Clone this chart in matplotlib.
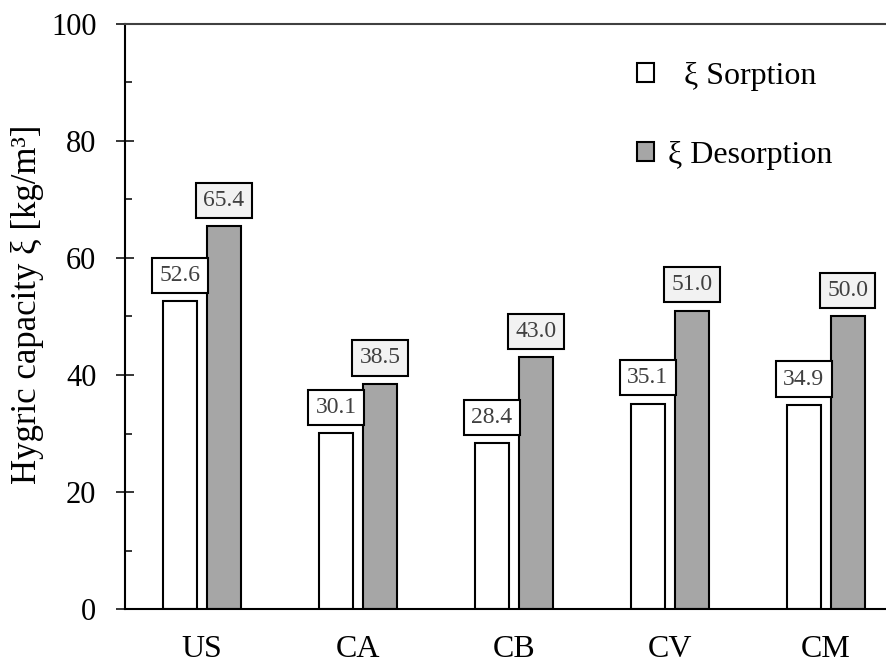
import matplotlib
matplotlib.use("Agg")
import matplotlib.pyplot as plt
from matplotlib.patches import Patch
from matplotlib.ticker import MultipleLocator
import numpy as np

# data
categories = ['US', 'CA', 'CB', 'CV', 'CM']
sorption = [52.6, 30.1, 28.4, 35.1, 34.9]
desorption = [65.4, 38.5, 43.0, 51.0, 50.0]

plt.rcParams['font.family'] = ['Liberation Serif', 'DejaVu Serif']

fig = plt.figure(figsize=(8.86, 6.64), dpi=100)
ax = fig.add_axes([0.141, 0.0828, 0.858, 0.8811])

x = np.arange(len(categories))
w = 0.218
off = 0.141

ax.bar(x - off, sorption, width=w, color='white', edgecolor='black', linewidth=1.5, zorder=2)
ax.bar(x + off, desorption, width=w, color='#a6a6a6', edgecolor='black', linewidth=1.5, zorder=2)

# value labels in boxes
for xi, v in zip(x - off, sorption):
    ax.annotate('%.1f' % v, xy=(xi, v), xytext=(0, 11), textcoords='offset points',
                ha='center', va='bottom', fontsize=17, color='#404040',
                bbox=dict(boxstyle='square,pad=0.3', fc='white', ec='black', lw=1.5))
for xi, v in zip(x + off, desorption):
    ax.annotate('%.1f' % v, xy=(xi, v), xytext=(0, 11), textcoords='offset points',
                ha='center', va='bottom', fontsize=17, color='#404040',
                bbox=dict(boxstyle='square,pad=0.3', fc='#f2f2f2', ec='black', lw=1.5))

ax.set_xlim(-0.494, 4.38)
ax.set_ylim(0, 100)
ax.set_xticks(x)
ax.set_xticklabels(categories, fontsize=23)
ax.tick_params(axis='x', length=0, pad=19)
ax.yaxis.set_major_locator(MultipleLocator(20))
ax.yaxis.set_minor_locator(MultipleLocator(10))
ax.tick_params(axis='y', which='major', direction='inout', length=13, width=1.1, labelsize=22, pad=14)
ax.tick_params(axis='y', which='minor', direction='in', length=5, width=1.1)

ax.spines['right'].set_visible(False)
for s in ['left', 'bottom']:
    ax.spines[s].set_linewidth(1.5)
ax.spines['top'].set_linewidth(1.5)
ax.spines['top'].set_color('#404040')

ax.set_ylabel('Hygric capacity \u03be [kg/m\u00b3]', fontsize=25)
ax.yaxis.set_label_coords(-0.106, 0.52)

handles = [Patch(fc='white', ec='black', lw=1.5), Patch(fc='#a6a6a6', ec='black', lw=1.5)]
ax.legend(handles, ['  \u03be Sorption', '\u03be Desorption'], loc='upper left',
          bbox_to_anchor=(0.673, 0.935), frameon=False, fontsize=23,
          handlelength=0.55, handleheight=0.55, handletextpad=0.45, labelspacing=1.55,
          borderaxespad=0, borderpad=0)

fig.savefig('out.png', dpi=100)
